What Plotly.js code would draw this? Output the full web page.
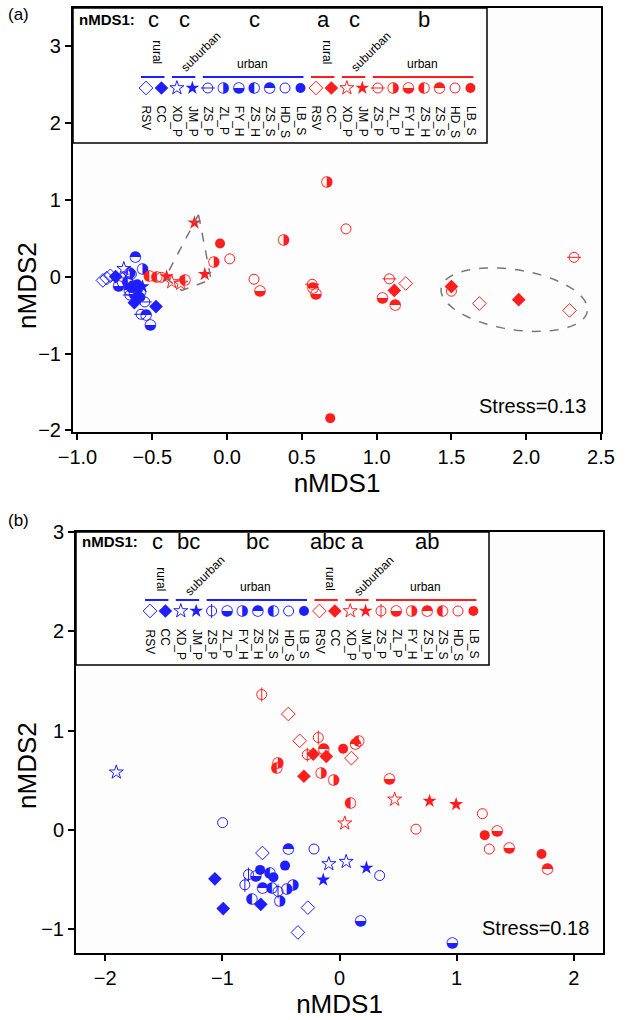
<!DOCTYPE html>
<html><head><meta charset="utf-8">
<script src="https://cdn.plot.ly/plotly-3.0.1.min.js"></script>
<style>body{margin:0;background:#fff}#chart{width:635px;height:1020px}</style>
</head><body><div id="chart"></div><script>
// ---------- categories / labels ----------
const siteNames = ['RSV','CC','XD_P','JM_P','ZS_P','ZL_P','FY_H','ZS_H','ZS_S','HD_S','LB_S'];
const groupNames = ['rural','suburban','urban'];
const groupSpans = [[0,1],[2,3],[4,10]];
const lettersA = ['c','c','c','a','c','b'];
const lettersB = ['c','bc','bc','abc','a','ab'];
const stressA = 'Stress=0.13';
const stressB = 'Stress=0.18';

// ---------- panel (a) data ----------
const aBlueX = [-0.83,-0.805,-0.78, -0.745,-0.62,-0.475, -0.69,-0.66, -0.565, -0.65,-0.575,-0.55, -0.565,-0.65,-0.60, -0.725,-0.62,-0.513, -0.665,-0.63,-0.58, -0.613,-0.653,-0.542, -0.64,-0.60,-0.70, -0.64,-0.60,-0.58];
const aBlueY = [-0.05,-0.02,0.01, 0.0,-0.34,-0.39, 0.10,0.03, -0.13, -0.24,-0.49,-0.33, 0.095,0.04,-0.16, -0.12,-0.23,-0.63, -0.07,-0.12,-0.20, 0.256,-0.18,-0.50, 0.03,-0.28,-0.08, -0.15,-0.10,-0.27];
const aBlueSite = ['RSV','RSV','RSV','CC','CC','CC','XD_P','XD_P','JM_P','ZS_P','ZS_P','ZS_P','ZL_P','ZL_P','ZL_P','FY_H','FY_H','FY_H','ZS_H','ZS_H','ZS_H','ZS_S','ZS_S','ZS_S','HD_S','HD_S','HD_S','LB_S','LB_S','LB_S'];

const aRedX = [1.195,1.687,2.29, 1.118,1.50,1.95, -0.37,-0.31, -0.218,-0.149,-0.404, 2.32,1.085,0.569, 0.669,0.38,-0.087, 0.22,1.04,0.595, -0.52,-0.47,-0.28, 0.575,1.124, 0.795,0.018,0.18,1.50,-0.44, -0.047,0.69];
const aRedY = [-0.09,-0.35,-0.44, -0.18,-0.13,-0.30, -0.07,-0.09, 0.70,0.03,0.0, 0.25,-0.03,-0.10, 1.23,0.47,0.19, -0.19,-0.28,-0.23, 0.01,-0.01,-0.05, -0.15,-0.37, 0.62,0.23,-0.035,-0.19,-0.01, 0.43,-1.84];
const aRedSite = ['RSV','RSV','RSV','CC','CC','CC','XD_P','XD_P','JM_P','JM_P','JM_P','ZS_P','ZS_P','ZS_P','ZL_P','ZL_P','ZL_P','FY_H','FY_H','FY_H','ZS_H','ZS_H','ZS_H','ZS_S','ZS_S','HD_S','HD_S','HD_S','HD_S','HD_S','LB_S','LB_S'];

// dashed outlines drawn in panel (a)
const hullX = [-0.191,-0.413,-0.302,-0.107];
const hullY = [0.805,-0.013,-0.18,-0.04];
const ellCenter = [1.92,-0.30];

// ---------- panel (b) data ----------
const bBlueX = [-0.658,-0.27,-0.355, -1.064,-0.993,-0.672, -1.906,-0.091,0.057, 0.23,-0.139, -0.777,-0.808,-0.525, 0.179,0.964,-0.715, -0.451,-0.397,-0.51, -0.437,-0.658, -0.596,-0.749,-0.579, -0.998,-0.218,0.343, -0.465,-0.678,-0.564];
const bBlueY = [-0.233,-0.783,-1.033, -0.493,-0.793,-0.75, 0.58,-0.343,-0.32, -0.383,-0.503, -0.45,-0.553,-0.62, -0.917,-1.143,-0.47, -0.60,-0.553,-0.717, -0.20,-0.593, -0.437,-0.703,-0.583, 0.073,-0.193,-0.46, -0.36,-0.403,-0.477];
const bBlueSite = ['RSV','RSV','RSV','CC','CC','CC','XD_P','XD_P','XD_P','JM_P','JM_P','ZS_P','ZS_P','ZS_P','ZL_P','ZL_P','ZL_P','FY_H','FY_H','FY_H','ZS_H','ZS_H','ZS_S','ZS_S','ZS_S','HD_S','HD_S','HD_S','LB_S','LB_S','LB_S'];

const bRedX = [-0.437,-0.34,0.102, -0.224,-0.113,-0.304, 0.045,0.471, 0.769,0.996, -0.664,-0.181,-0.275, 0.428,1.347,1.449, -0.525,-0.156,-0.048, -0.133,0.136,1.776, -0.536,0.094,0.165, 1.22,0.653,1.279, 0.031,1.24,1.725];
const bRedY = [1.167,0.897,0.723, 0.763,0.74,0.54, 0.067,0.307, 0.29,0.257, 1.363,0.93,0.757, 0.507,-0.01,-0.187, 0.673,0.573,0.497, 0.807,0.867,-0.40, 0.623,0.263,0.89, 0.163,0.007,-0.193, 0.817,-0.053,-0.243];
const bRedSite = ['RSV','RSV','RSV','CC','CC','CC','XD_P','XD_P','JM_P','JM_P','ZS_P','ZS_P','ZS_P','ZL_P','ZL_P','ZL_P','FY_H','FY_H','FY_H','ZS_H','ZS_H','ZS_H','ZS_S','ZS_S','ZS_S','HD_S','HD_S','HD_S','LB_S','LB_S','LB_S'];

// ---------- styles ----------
const BLUE = 'rgb(30,30,255)', RED = 'rgb(255,30,30)';
const FONT = 'Liberation Sans, Arial, sans-serif';
const GLYPH = {'half-left':'\u25D0','half-right':'\u25D1','half-bottom':'\u25D2','half-top':'\u25D3'};
const symA = ['diamond-open','diamond','star-open','star','circle-ew','half-right','half-bottom','half-left','half-top','circle-open','circle'];
const symB = ['diamond-open','diamond','star-open','star','circle-ns','half-bottom','half-right','half-top','half-left','circle-open','circle'];

const traces = [];
function markTraces(xs, ys, sites, color, symList, xa, ya) {
  siteNames.forEach((s, i) => {
    const idx = [];
    sites.forEach((v, k) => { if (v === s) idx.push(k); });
    if (!idx.length) return;
    const x = idx.map(k => xs[k]), y = idx.map(k => ys[k]);
    const kind = symList[i];
    const base = {x: x, y: y, xaxis: xa, yaxis: ya, type: 'scatter', showlegend: false, hoverinfo: 'skip', name: s};
    if (GLYPH[kind]) {
      traces.push(Object.assign({}, base, {mode: 'text', text: x.map(() => GLYPH[kind]),
        textfont: {family: 'DejaVu Sans', size: 15, color: color}, textposition: 'middle center'}));
    } else if (kind === 'circle-ew' || kind === 'circle-ns') {
      traces.push(Object.assign({}, base, {mode: 'markers', marker: {symbol: 'circle-open', size: 10, color: color, line: {width: 1, color: color}}}));
      traces.push(Object.assign({}, base, {mode: 'markers', marker: {symbol: kind === 'circle-ew' ? 'line-ew' : 'line-ns', size: 10, color: color, line: {width: 1, color: color}}}));
    } else {
      const sz = kind.indexOf('circle') === 0 ? 10 : 10.5;
      traces.push(Object.assign({}, base, {mode: 'markers', marker: {symbol: kind, size: sz, color: color, line: {width: kind.indexOf('open') > 0 ? 1 : 0, color: color}}}));
    }
  });
}

markTraces(aBlueX, aBlueY, aBlueSite, BLUE, symA, 'x', 'y');
markTraces(aRedX, aRedY, aRedSite, RED, symA, 'x', 'y');
markTraces(bBlueX, bBlueY, bBlueSite, BLUE, symB, 'x2', 'y2');
markTraces(bRedX, bRedY, bRedSite, RED, symB, 'x2', 'y2');

// ---------- inset keys (drawn on pixel-like overlay axes) ----------
const shapes = [], annotations = [];
function inset(xr, yr, box, x0, step, symY, lineY, letY, ruralY, subY, urbY, siteTop, letters, symList) {
  shapes.push({type: 'rect', xref: xr, yref: yr, x0: box[0], y0: box[1], x1: box[2], y1: box[3],
    line: {color: 'black', width: 1.5}, fillcolor: 'white', layer: 'below'});
  annotations.push({xref: xr, yref: yr, x: box[0] + 4, y: letY, text: '<b>nMDS1:</b>', showarrow: false,
    xanchor: 'left', yanchor: 'middle', font: {family: FONT, size: 15, color: 'black'}});
  [BLUE, RED].forEach((col, c) => {
    const pos = siteNames.map((_, i) => x0 + step * (i + 11 * c));
    const posY = siteNames.map(() => symY);
    markTraces(pos, posY, siteNames, col, symList, xr, yr);
    siteNames.forEach((s, i) => {
      annotations.push({xref: xr, yref: yr, x: pos[i], y: siteTop, text: s, textangle: 90, showarrow: false,
        xanchor: 'center', yanchor: 'top', font: {family: FONT, size: 12, color: 'black'}});
    });
    groupSpans.forEach((sp, g) => {
      const xa0 = pos[sp[0]] - 5, xa1 = pos[sp[1]] + 3;
      const cx = (pos[sp[0]] + pos[sp[1]]) / 2;
      shapes.push({type: 'line', xref: xr, yref: yr, x0: xa0, x1: xa1, y0: lineY, y1: lineY, line: {color: col, width: 2}});
      annotations.push({xref: xr, yref: yr, x: cx, y: letY, text: letters[g + 3 * c], showarrow: false,
        xanchor: 'center', yanchor: 'middle', font: {family: FONT, size: 22, color: 'black'}});
      if (g === 0) annotations.push({xref: xr, yref: yr, x: cx + 3, y: ruralY, text: groupNames[g], textangle: 90, showarrow: false,
        xanchor: 'center', yanchor: 'middle', font: {family: FONT, size: 12, color: 'black'}});
      if (g === 1) annotations.push({xref: xr, yref: yr, x: cx + 16, y: subY, text: groupNames[g], textangle: -45, showarrow: false,
        xanchor: 'center', yanchor: 'middle', font: {family: FONT, size: 12, color: 'black'}});
      if (g === 2) annotations.push({xref: xr, yref: yr, x: cx - 2, y: urbY, text: groupNames[g], showarrow: false,
        xanchor: 'center', yanchor: 'middle', font: {family: FONT, size: 12, color: 'black'}});
    });
  });
}
inset('x3', 'y3', [73, 8, 487, 143], 146, 15.45, 88, 77, 20, 52, 52, 64, 104, lettersA, symA);
inset('x4', 'y4', [76, 532, 489, 665], 150, 15.4, 611, 600, 542, 579, 576, 587, 627, lettersB, symB);

// dashed outlines in panel (a)
const hullPath = 'M' + hullX.map((v, i) => v + ',' + hullY[i]).join(' L') + ' Z';
shapes.push({type: 'path', xref: 'x', yref: 'y', path: hullPath, line: {color: 'rgb(120,120,120)', width: 1.5, dash: 'dash'}});
(function () {
  const a = 74, b = 30, th = 9 * Math.PI / 180, pts = [];
  for (let k = 0; k <= 72; k++) {
    const t = 2 * Math.PI * k / 72;
    const dx = a * Math.cos(t) * Math.cos(th) - b * Math.sin(t) * Math.sin(th);
    const dy = a * Math.cos(t) * Math.sin(th) + b * Math.sin(t) * Math.cos(th);
    pts.push((ellCenter[0] + dx / 149.6) + ',' + (ellCenter[1] - dy / 77));
  }
  shapes.push({type: 'path', xref: 'x', yref: 'y', path: 'M' + pts.join(' L') + ' Z', line: {color: 'rgb(120,120,120)', width: 1.5, dash: 'dash'}});
})();

annotations.push({xref: 'x domain', yref: 'y domain', x: 0.975, y: 0.03, text: stressA, showarrow: false,
  xanchor: 'right', yanchor: 'bottom', font: {family: FONT, size: 20, color: 'black'}});
annotations.push({xref: 'x2 domain', yref: 'y2 domain', x: 0.978, y: 0.028, text: stressB, showarrow: false,
  xanchor: 'right', yanchor: 'bottom', font: {family: FONT, size: 20, color: 'black'}});
annotations.push({xref: 'paper', yref: 'paper', x: -0.1, y: 0.99, text: '(a)', showarrow: false,
  xanchor: 'left', yanchor: 'middle', font: {family: FONT, size: 17, color: 'black'}});
annotations.push({xref: 'paper', yref: 'paper', x: -0.1, y: 0.4607, text: '(b)', showarrow: false,
  xanchor: 'left', yanchor: 'middle', font: {family: FONT, size: 17, color: 'black'}});
// y-axis titles (placed like the reference, below the axis centre)
const titleFont = {family: FONT, size: 26, color: 'black'};
annotations.push({xref: 'paper', yref: 'paper', x: -0.0606, y: 0.7068, text: 'nMDS2', textangle: -90, showarrow: false,
  xanchor: 'center', yanchor: 'middle', font: titleFont});
annotations.push({xref: 'paper', yref: 'paper', x: -0.0606, y: 0.2042, text: 'nMDS2', textangle: -90, showarrow: false,
  xanchor: 'center', yanchor: 'middle', font: titleFont});

const ax = {showline: true, linewidth: 2, linecolor: 'black', mirror: true, ticks: 'outside', ticklen: 6, tickwidth: 2,
  tickcolor: 'black', showgrid: false, zeroline: false, tickfont: {family: FONT, size: 20, color: 'black'}};
const layout = {
  width: 635, height: 1020, margin: {l: 60, r: 30, t: 5, b: 60},
  paper_bgcolor: 'white', plot_bgcolor: '#fdfdfd', showlegend: false,
  xaxis: Object.assign({}, ax, {domain: [0.02385, 0.99266], range: [-1.03, 2.5], dtick: 0.5, tickformat: '.1f', anchor: 'y',
    title: {text: 'nMDS1', font: titleFont, standoff: 3}}),
  yaxis: Object.assign({}, ax, {domain: [0.55288, 0.99686], range: [-2.02, 3.49], dtick: 1, anchor: 'x'}),
  xaxis2: Object.assign({}, ax, {domain: [0.02936, 0.99633], range: [-2.25, 2.25], dtick: 1, anchor: 'y2',
    title: {text: 'nMDS1', font: titleFont, standoff: 3}}),
  yaxis2: Object.assign({}, ax, {domain: [0.00733, 0.44817], range: [-1.24, 3.0], dtick: 1, anchor: 'x2'}),
  xaxis3: {overlaying: 'x', anchor: 'y3', range: [73, 601], visible: false, fixedrange: true},
  yaxis3: {overlaying: 'y', anchor: 'x3', range: [432, 8], visible: false, fixedrange: true},
  xaxis4: {overlaying: 'x2', anchor: 'y4', range: [76, 603], visible: false, fixedrange: true},
  yaxis4: {overlaying: 'y2', anchor: 'x4', range: [953, 532], visible: false, fixedrange: true},
  shapes: shapes, annotations: annotations
};
Plotly.newPlot('chart', traces, layout, {staticPlot: true, displayModeBar: false});
</script></body></html>
